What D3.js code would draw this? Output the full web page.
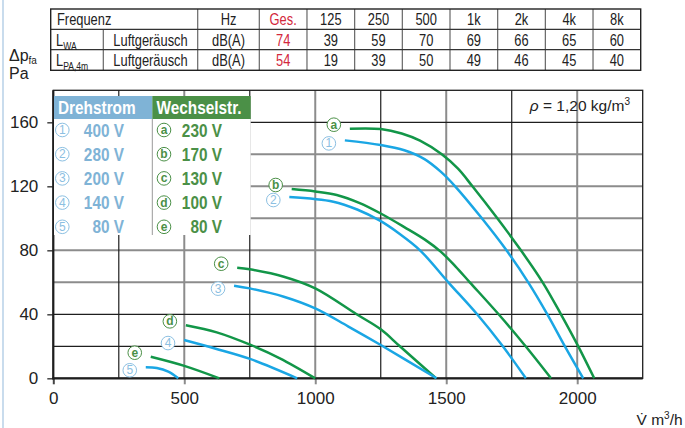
<!DOCTYPE html>
<html>
<head>
<meta charset="utf-8">
<script src="https://cdn.jsdelivr.net/npm/d3@7"></script>
<style>
  body { margin: 0; background: #fff; }
  svg { display: block; }
  text { font-family: "Liberation Sans", Arial, sans-serif; }
</style>
</head>
<body>
<svg id="chart" width="685" height="428"></svg>
<script>
// table data
var freqHeader = ["Hz", "Ges.", "125", "250", "500", "1k", "2k", "4k", "8k"];
var lwaRow = ["dB(A)", "74", "39", "59", "70", "69", "66", "65", "60"];
var lpaRow = ["dB(A)", "54", "19", "39", "50", "49", "46", "45", "40"];

// legend
var drehMarks = ["1", "2", "3", "4", "5"];
var drehVolts = ["400 V", "280 V", "200 V", "140 V", "80 V"];
var wechselMarks = ["a", "b", "c", "d", "e"];
var wechselVolts = ["230 V", "170 V", "130 V", "100 V", "80 V"];

// fan curves [m3/h, Pa]
var curveA = [[1132,156],[1250,155.8],[1330,153],[1400,148.5],[1483,140],[1545,131],[1600,120],[1695,100],[1785,80],[1868,60],[1938,40],[2004,20],[2065,0]];
var curve1 = [[1113,148.7],[1250,145.8],[1340,142.5],[1417,137],[1480,129],[1534,120],[1636,100],[1730,80],[1813,60],[1886,40],[1953,20],[2023,0]];
var curveB = [[910,118.3],[1000,116.8],[1082,114.6],[1170,109.5],[1250,103],[1340,94.5],[1420,86.5],[1480,79],[1535,70],[1590,60],[1700,40],[1803,20],[1900,0]];
var curve2 = [[901,113.3],[1069,110.4],[1160,105.5],[1247,98.5],[1320,90.5],[1400,80],[1508,60],[1618,40],[1716,20],[1804,0]];
var curveC = [[702,69.1],[750,68.1],[880,63.5],[1000,56.2],[1158,40],[1250,30.6],[1323,20],[1461,0]];
var curve3 = [[690,57.9],[750,56.2],[880,51],[1000,43.7],[1125,32.5],[1250,20.8],[1463,0]];
var curveD = [[506,33.1],[624,28.7],[751,21],[865,12.5],[1000,0]];
var curve4 = [[499,23.9],[620,18.5],[751,12.1],[931,0]];
var curveE = [[372,13.5],[500,7.8],[634,0]];
var curve5 = [[353,6.9],[395,6.4],[439,4.1],[477,0]];

var greenCurves = [curveA, curveB, curveC, curveD, curveE];
var blueCurves = [curve1, curve2, curve3, curve4, curve5];

var xTicks = [0, 500, 1000, 1500, 2000];
var yTicks = [0, 40, 80, 120, 160];
var xGridGray = [500, 1000, 1500, 2000];
var xGridBlack = [250, 750, 1250, 1750];
var yGridGray = [60, 80, 100, 120, 140];
var yGridBlack = [20, 40, 160];

var svg = d3.select("#chart");
var green = "#129648";
var blue = "#1aa6e4";
var legBlue = "#7fb3d6";
var legGreen = "#4b9047";
var markBlue = "#8cc0e2";

var x = d3.scaleLinear().domain([0, 2250]).range([53.3, 642.7]);
var y = d3.scaleLinear().domain([0, 180]).range([378.3, 90.3]);

// condensed text: squeeze a normal face horizontally
function narrow(g, px, py, str, size, anchor, fill, bold, sx) {
  return g.append("text")
    .attr("transform", "translate(" + px + "," + py + ") scale(" + (sx || 0.78) + ",1)")
    .attr("text-anchor", anchor || "start")
    .attr("font-size", size)
    .attr("font-weight", bold ? "bold" : "normal")
    .attr("fill", fill)
    .text(str);
}

// page border
svg.append("line").attr("x1", 3).attr("x2", 3).attr("y1", 0).attr("y2", 428)
  .attr("stroke", "#c9dced").attr("stroke-width", 2);

// ---- table ----
var tl = 50.7, tr = 640.7, rowY = [9, 29.3, 49.7, 70.3];
var hzCol = [197.7, 259.3];
var colX = d3.scaleBand().domain(d3.range(8)).range([259.3, tr]);
var t = svg.append("g");

var vlines = [103.3, 197.7, 259.3].concat(d3.range(1, 8).map(function(i) { return colX(i); }));
t.selectAll("line.v").data(vlines).enter().append("line")
  .attr("x1", function(d) { return d; }).attr("x2", function(d) { return d; })
  .attr("y1", function(d) { return d == 103.3 ? rowY[1] : rowY[0]; })
  .attr("y2", rowY[3])
  .attr("stroke", "#666").attr("stroke-width", 1.2);
t.selectAll("line.h").data(rowY.slice(1, 3)).enter().append("line")
  .attr("x1", tl).attr("x2", tr)
  .attr("y1", function(d) { return d; }).attr("y2", function(d) { return d; })
  .attr("stroke", "#333").attr("stroke-width", 1.2);
t.append("rect").attr("x", tl).attr("y", rowY[0]).attr("width", tr - tl).attr("height", rowY[3] - rowY[0])
  .attr("fill", "none").attr("stroke", "#222").attr("stroke-width", 1.4);

function cellX(i) {
  return i == 0 ? (hzCol[0] + hzCol[1]) / 2 : colX(i - 1) + colX.bandwidth() / 2;
}
function rowBase(r) { return (rowY[r] + rowY[r + 1]) / 2 + 6; }

[freqHeader, lwaRow, lpaRow].forEach(function(row, r) {
  row.forEach(function(d, i) {
    narrow(t, cellX(i), rowBase(r), d, 16.5, "middle", i == 1 ? "#d3283c" : "#222");
  });
});
narrow(t, 57, rowBase(0), "Frequenz", 16.5, "start", "#222");
var lw = narrow(t, 56, rowBase(1), "L", 16.5, "start", "#222");
lw.append("tspan").attr("font-size", 11).attr("dy", 4).text("WA");
var lp = narrow(t, 56, rowBase(2), "L", 16.5, "start", "#222");
lp.append("tspan").attr("font-size", 11).attr("dy", 4).text("PA,4m");
[1, 2].forEach(function(r) {
  narrow(t, 150.5, rowBase(r), "Luftgeräusch", 16.5, "middle", "#222");
});

// ---- grid ----
var grid = svg.append("g");
function vGrid(vals, col, w) {
  grid.selectAll(null).data(vals).enter().append("line")
    .attr("x1", function(d) { return x(d); }).attr("x2", function(d) { return x(d); })
    .attr("y1", y(180)).attr("y2", y(0))
    .attr("stroke", col).attr("stroke-width", w);
}
function hGrid(vals, col, w) {
  grid.selectAll(null).data(vals).enter().append("line")
    .attr("x1", x(0)).attr("x2", x(2250))
    .attr("y1", function(d) { return y(d); }).attr("y2", function(d) { return y(d); })
    .attr("stroke", col).attr("stroke-width", w);
}
vGrid(xGridGray, "#8c8c8c", 2);
hGrid(yGridGray, "#8c8c8c", 2);
vGrid(xGridBlack, "#1e1e1e", 1.2);
hGrid(yGridBlack, "#1e1e1e", 1.2);
grid.append("rect").attr("x", x(0)).attr("y", y(180)).attr("width", x(2250) - x(0)).attr("height", y(0) - y(180))
  .attr("fill", "none").attr("stroke", "#1e1e1e").attr("stroke-width", 1.3);

// ---- axes ----
var yAxis = d3.axisLeft(y).tickValues(yTicks).tickSize(6).tickPadding(9);
var gy = svg.append("g").attr("transform", "translate(" + x(0) + ",0)").call(yAxis);
gy.select(".domain").remove();
gy.selectAll("line").attr("stroke", "#444").attr("stroke-width", 1.5);
gy.selectAll("text").attr("font-size", 17).attr("fill", "#222").attr("font-family", null);

var xAxis = d3.axisBottom(x).tickValues(xTicks).tickFormat(d3.format("d")).tickSize(6).tickPadding(8);
var gx = svg.append("g").attr("transform", "translate(0," + y(0) + ")").call(xAxis);
gx.select(".domain").remove();
gx.selectAll("line").attr("stroke", function(d) { return d == 0 ? "#444" : "#8c8c8c"; }).attr("stroke-width", 2);
gx.selectAll("text").attr("font-size", 17).attr("fill", "#222").attr("font-family", null);

svg.append("line").attr("x1", x(0)).attr("x2", x(0)).attr("y1", y(180)).attr("y2", y(0) + 1)
  .attr("stroke", "#1e1e1e").attr("stroke-width", 2.2);
svg.append("line").attr("x1", x(0) - 1).attr("x2", x(2250)).attr("y1", y(0)).attr("y2", y(0))
  .attr("stroke", "#1e1e1e").attr("stroke-width", 2.2);

// ---- curves ----
var line = d3.line().x(function(d) { return x(d[0]); }).y(function(d) { return y(d[1]); })
  .curve(d3.curveCatmullRom.alpha(0.5));
svg.selectAll("path.g").data(greenCurves).enter().append("path")
  .attr("d", line).attr("fill", "none").attr("stroke", green).attr("stroke-width", 2.5);
svg.selectAll("path.b").data(blueCurves).enter().append("path")
  .attr("d", line).attr("fill", "none").attr("stroke", blue).attr("stroke-width", 2.5);

function mark(g, cx, cy, label, col, bold) {
  g.append("circle").attr("cx", cx).attr("cy", cy).attr("r", 6.8)
    .attr("fill", "#fff").attr("stroke", col).attr("stroke-width", 1);
  g.append("text").attr("x", cx).attr("y", cy + 4).attr("text-anchor", "middle")
    .attr("font-size", 12).attr("font-weight", bold ? "bold" : "normal")
    .attr("fill", col).text(label);
}
var marks = svg.append("g");
greenCurves.forEach(function(c, i) {
  mark(marks, x(c[0][0]) - 16, y(c[0][1]) - 4, wechselMarks[i], legGreen, true);
});
blueCurves.forEach(function(c, i) {
  mark(marks, x(c[0][0]) - 16, y(c[0][1]) + 3, drehMarks[i], markBlue, false);
});

// ---- legend ----
var leg = svg.append("g");
var lx = 54, lmid = 152.3, lr = 250.7, lTop = 96, lHead = 119, lBot = 235;
leg.append("rect").attr("x", lx).attr("y", lHead).attr("width", lr - lx).attr("height", lBot - lHead).attr("fill", "#fff");
leg.append("rect").attr("x", lx).attr("y", lTop).attr("width", lmid - lx).attr("height", lHead - lTop).attr("fill", legBlue);
leg.append("rect").attr("x", lmid).attr("y", lTop).attr("width", lr - lmid).attr("height", lHead - lTop).attr("fill", legGreen);
leg.append("line").attr("x1", lmid).attr("x2", lmid).attr("y1", lHead).attr("y2", lBot).attr("stroke", "#999").attr("stroke-width", 1);
narrow(leg, 58, 114, "Drehstrom", 18.5, "start", "#fff", true, 0.83);
narrow(leg, 156.5, 114, "Wechselstr.", 18.5, "start", "#fff", true, 0.83);

drehVolts.forEach(function(v, i) {
  var cy = 130 + i * 24.2;
  mark(leg, lx + 8.3, cy, drehMarks[i], markBlue, false);
  narrow(leg, lx + 70, cy + 6.5, v, 18.5, "end", legBlue, true, 0.83);
});
wechselVolts.forEach(function(v, i) {
  var cy = 130 + i * 24.2;
  mark(leg, lmid + 11.7, cy, wechselMarks[i], legGreen, true);
  narrow(leg, lmid + 69.7, cy + 6.5, v, 18.5, "end", legGreen, true, 0.83);
});

// ---- labels ----
var rho = svg.append("text").attr("x", 630).attr("y", 111).attr("text-anchor", "end")
  .attr("font-size", 15.5).attr("fill", "#222");
rho.append("tspan").attr("font-style", "italic").text("ρ");
rho.append("tspan").text(" = 1,20 kg/m");
rho.append("tspan").attr("font-size", 10).attr("dy", -6).text("3");

var yl = svg.append("text").attr("x", 9).attr("y", 61).attr("font-size", 16).attr("fill", "#222");
yl.append("tspan").text("Δp");
yl.append("tspan").attr("font-size", 10).attr("dy", 3).text("fa");
svg.append("text").attr("x", 9).attr("y", 79).attr("font-size", 16).attr("fill", "#222").text("Pa");

var xl = svg.append("text").attr("x", 636.5).attr("y", 425).attr("font-size", 15.5).attr("fill", "#222");
xl.append("tspan").text("V\u0307 m");
xl.append("tspan").attr("font-size", 10).attr("dy", -6).text("3");
xl.append("tspan").attr("dy", 6).text("/h");
</script>
</body>
</html>
